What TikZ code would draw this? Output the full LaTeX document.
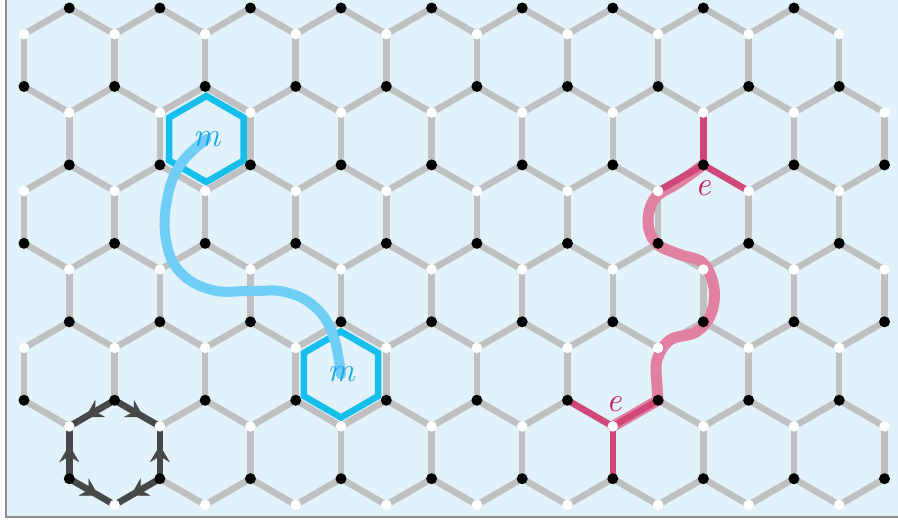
\documentclass[tikz,border=0pt]{standalone}
\usepackage{fontspec}
\usetikzlibrary{arrows.meta,decorations.markings,shapes.geometric}

\definecolor{paper}{RGB}{225,242,250}
\definecolor{bondgray}{RGB}{192,192,192}
\definecolor{framegray}{RGB}{140,140,140}
\definecolor{mcyan}{RGB}{22,190,236}
\definecolor{mtext}{RGB}{28,168,224}
\definecolor{mlight}{RGB}{110,206,245}
\definecolor{ered}{RGB}{208,72,120}
\definecolor{epink}{RGB}{226,128,160}
\definecolor{etext}{RGB}{196,24,86}
\definecolor{loopgray}{RGB}{72,72,72}

\tikzset{
	bondline/.style={draw=bondgray, line width=6.5pt},
	ebond/.style={draw=ered, line width=6.5pt},
	loopbond/.style={loopgray, line width=6.5pt, postaction={decorate},
		decoration={markings, mark=at position 0.64 with {\arrow{Stealth[length=17pt,width=20pt,inset=6pt,line width=0.4pt]}}}},
	blackdot/.style={circle, fill=black, inner sep=0pt, minimum size=11pt},
	whitedot/.style={circle, fill=white, inner sep=0pt, minimum size=10.5pt},
	mhex/.style={regular polygon, regular polygon sides=6, shape border rotate=30,
		minimum size=86pt, inner sep=0pt, draw=mcyan, line width=6.5pt},
	mstring/.style={draw=mlight, line width=10pt, line cap=round},
	estring/.style={draw=epink, line width=11pt, line cap=round},
	mlabel/.style={text=mtext, font=\fontsize{34}{36}\selectfont\itshape},
	elabel/.style={text=etext, font=\fontsize{34}{36}\selectfont\itshape}
}

\begin{document}
\begin{tikzpicture}[x=1pt, y=-1pt]
	\useasboundingbox (0,0) rectangle (898,525);
	\fill[paper] (6,0) rectangle (898,517);
	\draw[framegray, line width=1.5pt] (6,0) -- (6,517) -- (898,517);

	% lattice sites: column \i, zigzag \k
	\foreach \k in {0,...,6} {
		\foreach \i in {0,...,19} {
			\pgfmathsetmacro\px{24+45.29*\i}
			\pgfmathsetmacro\py{8+78.45*\k+26.15*(1-mod(\i+\k,2))}
			\coordinate (v-\i-\k) at (\px,\py);
		}
	}

	% zigzag bonds
	\foreach \k in {0,...,6} {
		\foreach \i [evaluate=\i as \j using int(\i+1)] in {0,...,18} {
			\pgfmathtruncatemacro\cut{or(and(\k==0,\i==18),and(\k==6,\i==0))}
			\ifnum\cut=0 \draw[bondline] (v-\i-\k) -- (v-\j-\k); \fi
		}
	}

	% vertical bonds
	\foreach \k [evaluate=\k as \kk using int(\k+1)] in {0,...,5} {
		\foreach \i in {0,...,19} {
			\pgfmathtruncatemacro\up{mod(\i+\k,2)}
			\ifnum\up=0 \draw[bondline] (v-\i-\k) -- (v-\i-\kk); \fi
		}
	}

	% plaquette loop
	\draw[loopbond] (v-2-5) -- (v-1-5);
	\draw[loopbond] (v-2-5) -- (v-3-5);
	\draw[loopbond] (v-3-6) -- (v-3-5);
	\draw[loopbond] (v-3-6) -- (v-2-6);
	\draw[loopbond] (v-1-6) -- (v-2-6);
	\draw[loopbond] (v-1-6) -- (v-1-5);

	% m pair
	\node[mhex] (mA) at (206.4,139) {};
	\node[mhex] (mB) at (341,374.5) {};
	\draw[mstring] plot[smooth, tension=0.7] coordinates {(mA.center) (180,165) (167,200) (166,240) (180,272) (212,290) (250,291) (285,292) (315,307) (333,335) (mB.center)};

	% e pair
	\draw[estring] plot[smooth, tension=0.6] coordinates {(v-15-2) (678,183) (655,198) (648,222) (656,243) (678,254) (703,263) (714,288) (711,314) (696,332) (670,340) (657,360) (657,385) (v-14-5)} -- (v-13-5);
	\draw[ebond] (v-15-2) -- (v-15-1);
	\draw[ebond] (v-15-2) -- (v-14-2);
	\draw[ebond] (v-15-2) -- (v-16-2);
	\draw[ebond] (v-13-5) -- (v-12-5);
	\draw[ebond] (v-13-5) -- (v-14-5);
	\draw[ebond] (v-13-5) -- (v-13-6);

	% sites
	\foreach \k in {0,...,6} {
		\foreach \i in {0,...,19} {
			\pgfmathtruncatemacro\isblack{mod(\i+\k,2)}
			\pgfmathtruncatemacro\cut{or(and(\k==0,\i==19),and(\k==6,\i==0))}
			\ifnum\cut=0
				\ifnum\isblack=1 \node[blackdot] at (v-\i-\k) {};
				\else \node[whitedot] at (v-\i-\k) {}; \fi
			\fi
		}
	}

	% labels
	\node[mlabel] (mlabA) at (mA) {m};
	\node[mlabel] (mlabB) at (mB) {m};
	\node[elabel] (elabA) at (703,188) {e};
	\node[elabel] (elabB) at (614,404) {e};
\end{tikzpicture}
\end{document}
